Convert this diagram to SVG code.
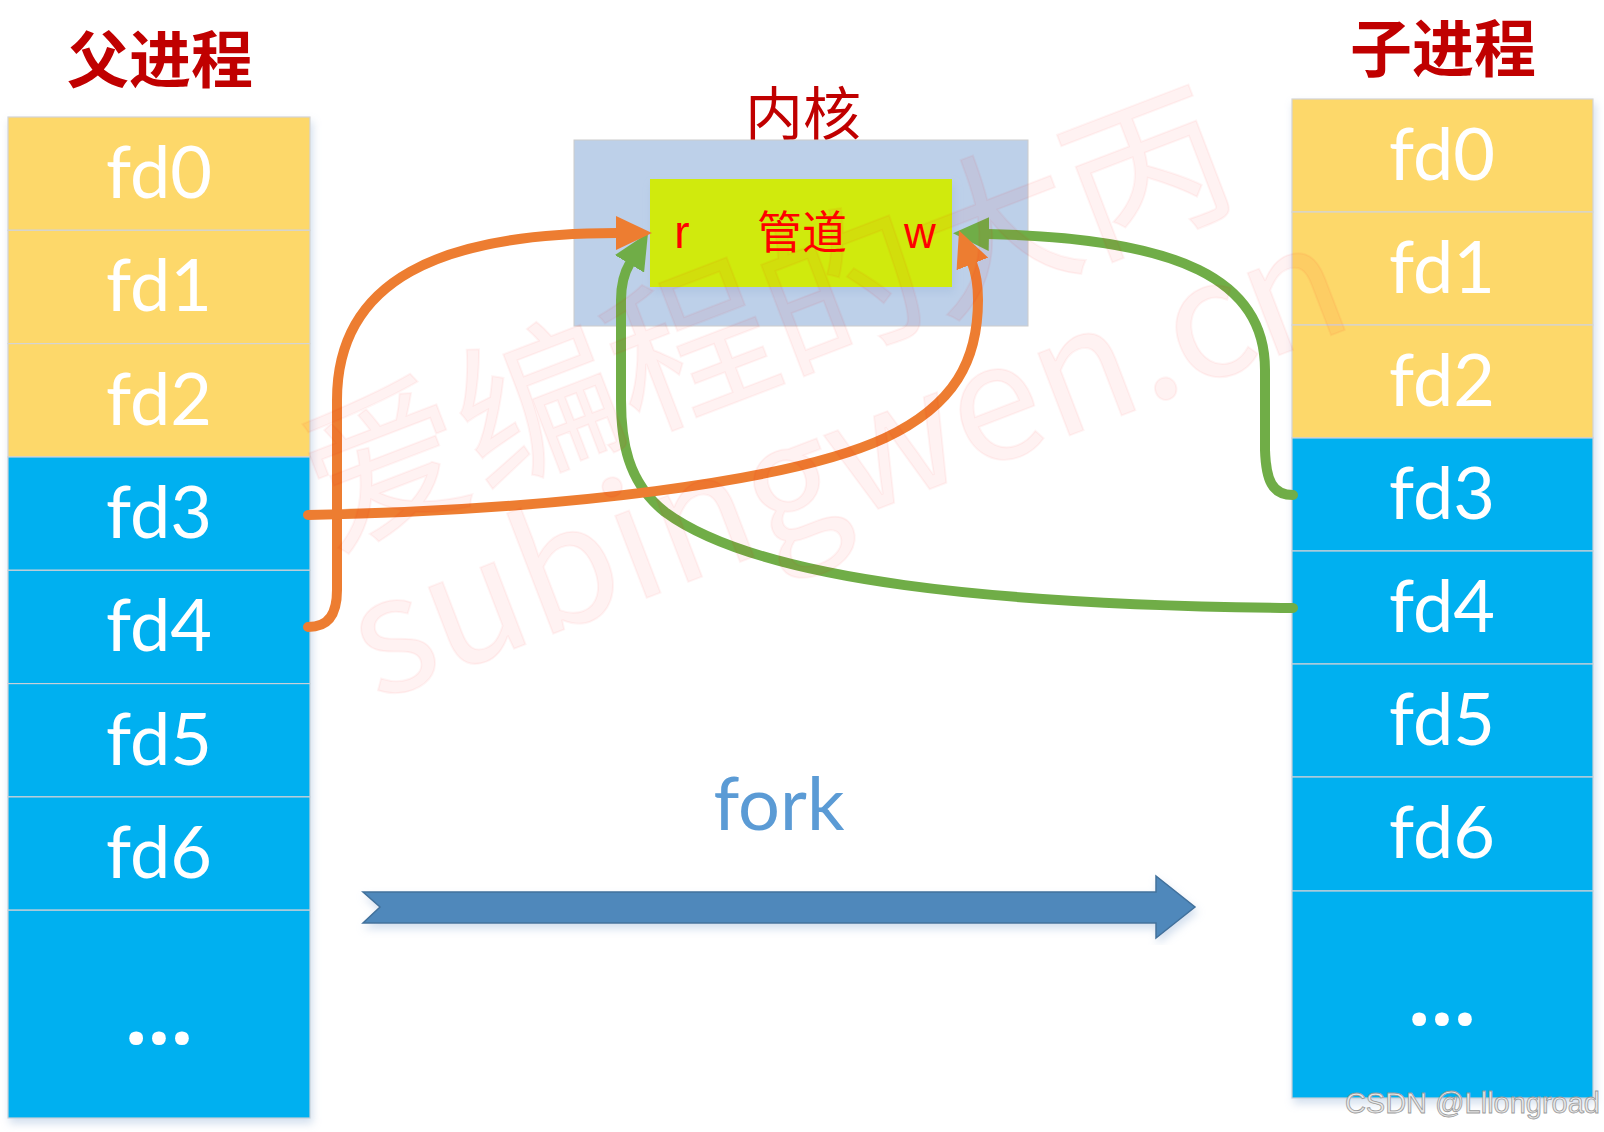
<svg xmlns="http://www.w3.org/2000/svg" width="1604" height="1132" viewBox="0 0 1604 1132">
<style>
.title{font-family:"Noto Sans CJK SC",sans-serif;font-weight:bold;fill:#C00000;text-anchor:middle}
.fd{font-family:Lato,"Open Sans",sans-serif;font-size:72px;fill:#FFFFFF;text-anchor:middle}
.dots{font-family:"Open Sans",sans-serif;font-weight:bold;font-size:80px;fill:#FFFFFF;text-anchor:middle}
.yel{fill:#FDD86B;stroke:#D4D4D4;stroke-width:1.2}
.blu{fill:#00B0F0;stroke:#C8D0D8;stroke-width:1.2}
.pipe-txt{fill:#FF0000;text-anchor:middle}
.conn{fill:none;stroke-width:10;stroke-linecap:round}
.or{stroke:#ED7D31}
.gr{stroke:#70AD47}
.wm{font-family:"Noto Sans CJK SC",sans-serif;fill:#FF0000;fill-opacity:0.05;stroke:#FF0000;stroke-opacity:0.045;stroke-width:2;text-anchor:middle}
</style>
<defs>
<filter id="sh" x="-10%" y="-10%" width="120%" height="120%">
<feDropShadow dx="2" dy="5" stdDeviation="4" flood-color="#9DB7D9" flood-opacity="0.45"/>
</filter>
<marker id="ah-or" markerUnits="userSpaceOnUse" markerWidth="36" markerHeight="34" viewBox="0 0 36 34" refX="1" refY="17" orient="auto">
<path d="M0,0 L36,17 L0,34 z" fill="#ED7D31"/>
</marker>
<marker id="ah-gr" markerUnits="userSpaceOnUse" markerWidth="36" markerHeight="34" viewBox="0 0 36 34" refX="1" refY="17" orient="auto">
<path d="M0,0 L36,17 L0,34 z" fill="#70AD47"/>
</marker>
</defs>
<rect width="1604" height="1132" fill="#FFFFFF"/>

<g id="parent-title"><text class="title" x="160" y="83" font-size="62">父进程</text></g>
<g id="child-title"><text class="title" x="1443" y="72" font-size="62">子进程</text></g>

<g id="parent-table" filter="url(#sh)">
<g id="p-fd0"><rect class="yel" x="8" y="117" width="302" height="113.3"/><text class="fd" x="159" y="198">fd0</text></g>
<g id="p-fd1"><rect class="yel" x="8" y="230.3" width="302" height="113.3"/><text class="fd" x="159" y="311">fd1</text></g>
<g id="p-fd2"><rect class="yel" x="8" y="343.6" width="302" height="113.3"/><text class="fd" x="159" y="424.5">fd2</text></g>
<g id="p-fd3"><rect class="blu" x="8" y="457" width="302" height="113.3"/><text class="fd" x="159" y="538">fd3</text></g>
<g id="p-fd4"><rect class="blu" x="8" y="570.3" width="302" height="113.3"/><text class="fd" x="159" y="651">fd4</text></g>
<g id="p-fd5"><rect class="blu" x="8" y="683.6" width="302" height="113.3"/><text class="fd" x="159" y="764.5">fd5</text></g>
<g id="p-fd6"><rect class="blu" x="8" y="796.9" width="302" height="113.3"/><text class="fd" x="159" y="878">fd6</text></g>
<g id="p-more"><rect class="blu" x="8" y="910.2" width="302" height="207.8"/><text class="dots" x="159" y="1044">...</text></g>
</g>

<g id="child-table" filter="url(#sh)">
<g id="c-fd0"><rect class="yel" x="1292" y="99" width="301" height="113"/><text class="fd" x="1442" y="180">fd0</text></g>
<g id="c-fd1"><rect class="yel" x="1292" y="212" width="301" height="113"/><text class="fd" x="1442" y="293">fd1</text></g>
<g id="c-fd2"><rect class="yel" x="1292" y="325" width="301" height="113"/><text class="fd" x="1442" y="406">fd2</text></g>
<g id="c-fd3"><rect class="blu" x="1292" y="438" width="301" height="113"/><text class="fd" x="1442" y="519">fd3</text></g>
<g id="c-fd4"><rect class="blu" x="1292" y="551" width="301" height="113"/><text class="fd" x="1442" y="632">fd4</text></g>
<g id="c-fd5"><rect class="blu" x="1292" y="664" width="301" height="113"/><text class="fd" x="1442" y="745">fd5</text></g>
<g id="c-fd6"><rect class="blu" x="1292" y="777" width="301" height="114"/><text class="fd" x="1442" y="858">fd6</text></g>
<g id="c-more"><rect class="blu" x="1292" y="891" width="301" height="207"/><text class="dots" x="1442" y="1025">...</text></g>
</g>

<g id="kernel">
<text x="803" y="135" font-family="'Noto Sans CJK SC',sans-serif" font-size="58" fill="#C00000" text-anchor="middle">内核</text>
<rect x="574" y="140" width="454" height="186" fill="#BDD0E9" stroke="#CCCCCC" stroke-width="1"/>
</g>

<g id="pipe">
<rect x="650" y="179" width="302" height="108" fill="#D0EA0A" filter="url(#sh)"/>
<text class="pipe-txt" x="682" y="248" font-family="'Liberation Sans',sans-serif" font-size="46">r</text>
<text class="pipe-txt" x="802" y="249" font-family="'Noto Sans CJK SC',sans-serif" font-size="45">管道</text>
<text class="pipe-txt" x="920" y="248" font-family="'Liberation Sans',sans-serif" font-size="44">w</text>
</g>

<g id="fork">
<text x="779" y="830" font-family="Lato,'Open Sans',sans-serif" font-size="74" fill="#5B9BD5" text-anchor="middle">fork</text>
<polygon points="363,892 1156,892 1156,876 1195,907 1156,938 1156,923 363,923 380,907" fill="#4F88BB" stroke="#41719C" stroke-width="1.5" filter="url(#sh)"/>
</g>

<g id="connectors">
<path class="conn gr" d="M1293 495 C1272 495 1266 480 1265 450 L1265 370 C1265 280 1180 238 988 234" marker-end="url(#ah-gr)"/>
<path class="conn gr" d="M1293 608 C1000 605 760 582 665 512 C627 482 621 440 621 400 L621 300 Q621 278 630 263" marker-end="url(#ah-gr)"/>
<path class="conn or" d="M308 627 C330 627 337 612 337 590 L337 400 C337 280 440 233 617 233" marker-end="url(#ah-or)"/>
<path class="conn or" d="M308 515 C560 510 790 482 885 438 C955 405 978 360 978 300 Q978 278 972 263" marker-end="url(#ah-or)"/>
</g>

<g id="watermark">
<text class="wm" transform="translate(767,320) rotate(-21)" x="0" y="57" font-size="163">爱编程的大丙</text>
<text class="wm" transform="translate(852,474) rotate(-21)" x="0" y="42" font-size="162" font-family="'Liberation Sans',sans-serif">subingwen.cn</text>
</g>

<g id="csdn">
<text x="1600" y="1113" font-family="'Liberation Sans',sans-serif" font-size="29" fill="#E8E8E8" stroke="#9A9A9A" stroke-width="0.8" text-anchor="end">CSDN @Lllongroad</text>
</g>
</svg>
